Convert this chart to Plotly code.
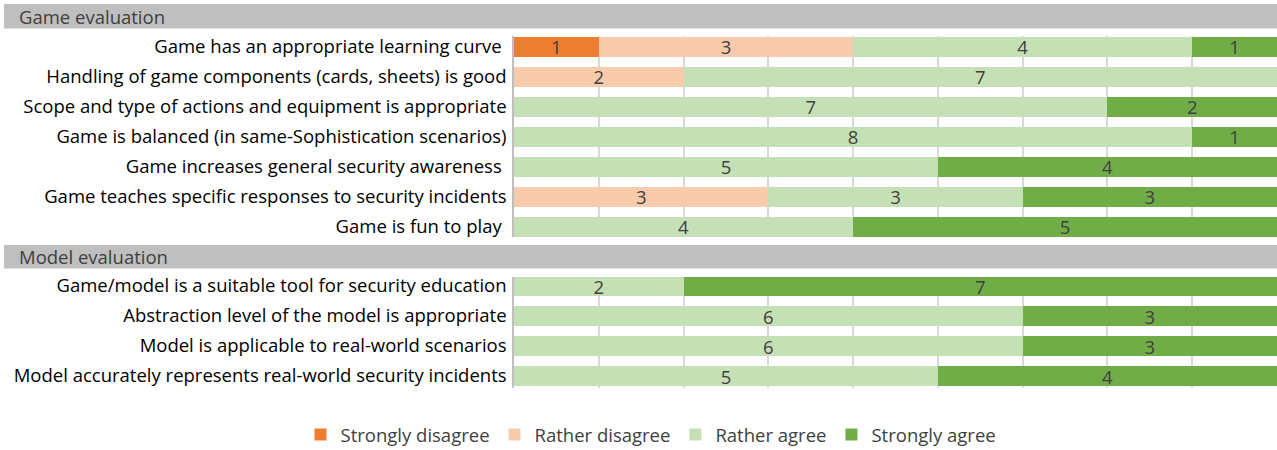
import plotly.graph_objects as go

game_items = [
    "Game has an appropriate learning curve\u00a0",
    "Handling of game components (cards, sheets) is good",
    "Scope and type of actions and equipment is appropriate",
    "Game is balanced (in same-Sophistication scenarios)",
    "Game increases general security awareness\u00a0",
    "Game teaches specific responses to security incidents",
    "Game is fun to play\u00a0",
]
model_items = [
    "Game/model is a suitable tool for security education",
    "Abstraction level of the model is appropriate",
    "Model is applicable to real-world scenarios",
    "Model accurately represents real-world security incidents",
]
series_names = ["Strongly disagree", "Rather disagree", "Rather agree", "Strongly agree"]
colors = ["#ED7D31", "#F8CBAD", "#C5E0B4", "#70AD47"]

game_strongly_disagree = [1, 0, 0, 0, 0, 0, 0]
game_rather_disagree = [3, 2, 0, 0, 0, 3, 0]
game_rather_agree = [4, 7, 7, 8, 5, 3, 4]
game_strongly_agree = [1, 0, 2, 1, 4, 3, 5]

model_strongly_disagree = [0, 0, 0, 0]
model_rather_disagree = [0, 0, 0, 0]
model_rather_agree = [2, 6, 6, 5]
model_strongly_agree = [7, 3, 3, 4]

game_series = [game_strongly_disagree, game_rather_disagree, game_rather_agree, game_strongly_agree]
model_series = [model_strongly_disagree, model_rather_disagree, model_rather_agree, model_strongly_agree]

FONT = "Open Sans"
FS = 18.5
W, H = 1277, 450
L = 514

def px_x(p):
    return (p - L) / (W - L)

def px_y(p):
    return 1 - p / H

fig = go.Figure()
for i, name in enumerate(series_names):
    vals = game_series[i]
    fig.add_trace(go.Bar(
        y=game_items, x=vals, orientation="h", name=name,
        marker=dict(color=colors[i], line=dict(width=0)),
        text=[str(v) if v else "" for v in vals],
        textposition="inside", insidetextanchor="middle", textangle=0, constraintext="none",
        textfont=dict(color="#404040", size=FS, family=FONT),
        xaxis="x", yaxis="y", legendgroup=name, showlegend=True, hoverinfo="skip",
    ))
for i, name in enumerate(series_names):
    vals = model_series[i]
    fig.add_trace(go.Bar(
        y=model_items, x=vals, orientation="h", name=name,
        marker=dict(color=colors[i], line=dict(width=0)),
        text=[str(v) if v else "" for v in vals],
        textposition="inside", insidetextanchor="middle", textangle=0, constraintext="none",
        textfont=dict(color="#404040", size=FS, family=FONT),
        xaxis="x2", yaxis="y2", legendgroup=name, showlegend=False, hoverinfo="skip",
    ))

xcommon = dict(range=[0, 9], dtick=1, showgrid=True, gridcolor="#D9D9D9", gridwidth=1.5,
               showticklabels=False, zeroline=False, showline=False, ticks="", fixedrange=True)
ycommon = dict(showgrid=False, zeroline=False, showline=True, linecolor="#BFBFBF", linewidth=1.5,
               ticks="", ticklabelstandoff=2, tickfont=dict(family=FONT, size=FS, color="#000000"),
               automargin=False, type="category", fixedrange=True)

fig.update_layout(
    width=W, height=H,
    margin=dict(l=L, r=0, t=0, b=0, autoexpand=False),
    paper_bgcolor="white", plot_bgcolor="white",
    barmode="stack", bargap=1/3,
    font=dict(family=FONT, size=FS, color="#404040"),
    uniformtext=dict(mode=False),
    xaxis=dict(anchor="y", **xcommon),
    xaxis2=dict(anchor="y2", matches="x", **xcommon),
    yaxis=dict(domain=[px_y(237), px_y(36)], range=[6.35, -0.35],
               categoryorder="array", categoryarray=game_items, **ycommon),
    yaxis2=dict(domain=[px_y(388), px_y(277)], range=[3.4, -0.3],
                categoryorder="array", categoryarray=model_items, **ycommon),
    legend=dict(orientation="h", x=px_x(651), xanchor="center", y=px_y(435), yanchor="middle",
                font=dict(family=FONT, size=FS, color="#404040"), traceorder="normal",
                itemclick=False, itemdoubleclick=False),
    showlegend=True,
    shapes=[
        dict(type="rect", xref="paper", yref="paper", x0=px_x(4), x1=1, y0=px_y(28.5), y1=px_y(4),
             fillcolor="#BFBFBF", line=dict(width=0), layer="below"),
        dict(type="rect", xref="paper", yref="paper", x0=px_x(4), x1=1, y0=px_y(268.5), y1=px_y(245),
             fillcolor="#BFBFBF", line=dict(width=0), layer="below"),
    ],
    annotations=[
        dict(text="Game evaluation", xref="paper", yref="paper", x=px_x(17), y=px_y(16.5),
             xanchor="left", yanchor="middle", showarrow=False,
             font=dict(family=FONT, size=FS, color="#404040")),
        dict(text="Model evaluation", xref="paper", yref="paper", x=px_x(17), y=px_y(256.5),
             xanchor="left", yanchor="middle", showarrow=False,
             font=dict(family=FONT, size=FS, color="#404040")),
    ],
)

fig.write_html("out.html", config={"displayModeBar": False},
               post_script="document.body.style.margin='0';document.body.style.overflow='hidden';")
